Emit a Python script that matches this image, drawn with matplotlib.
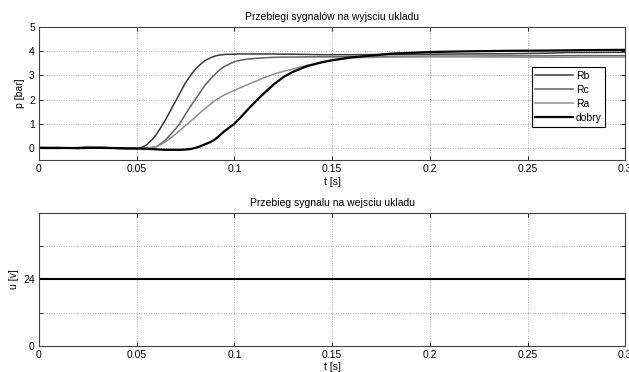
import numpy as np
import matplotlib
matplotlib.use('Agg')
from matplotlib import pyplot as plt

plt.rcParams['font.family'] = ['Liberation Sans', 'DejaVu Sans']
plt.rcParams['font.size'] = 7.5

# czas [s]
t = [0, 0.01, 0.02, 0.025, 0.03, 0.04, 0.045, 0.05, 0.052, 0.055, 0.058, 0.06, 0.062,
     0.065, 0.068, 0.07, 0.072, 0.075, 0.078, 0.08, 0.082, 0.085, 0.088, 0.09,
     0.092, 0.095, 0.1, 0.103, 0.107, 0.11, 0.115, 0.12, 0.125, 0.13, 0.137,
     0.145, 0.15, 0.16, 0.18, 0.2, 0.22, 0.24, 0.26, 0.27, 0.28, 0.3]

# cisnienie [bar]
Rb = [0.02, 0.0, -0.02, 0.01, 0.03, 0.0, -0.02, -0.03, 0.0, 0.12, 0.35, 0.55, 0.8,
      1.2, 1.65, 1.95, 2.25, 2.7, 3.05, 3.25, 3.42, 3.62, 3.74, 3.8,
      3.84, 3.87, 3.88, 3.89, 3.89, 3.89, 3.89, 3.89, 3.88, 3.88, 3.87,
      3.86, 3.86, 3.86, 3.87, 3.88, 3.89, 3.9, 3.92, 3.95, 3.95, 3.96]
Rc = [0.0, 0.01, -0.01, 0.0, 0.02, -0.01, -0.03, -0.03, -0.02, 0.0, 0.02, 0.05, 0.15,
      0.35, 0.62, 0.8, 1.0, 1.4, 1.78, 2.0, 2.25, 2.6, 2.88, 3.04,
      3.2, 3.38, 3.57, 3.63, 3.68, 3.7, 3.73, 3.75, 3.76, 3.76, 3.77,
      3.77, 3.77, 3.78, 3.79, 3.8, 3.8, 3.81, 3.81, 3.82, 3.82, 3.82]
Ra = [-0.02, -0.03, 0.02, 0.06, 0.04, -0.03, -0.06, -0.05, -0.03, -0.01, 0.02, 0.05, 0.12,
      0.27, 0.45, 0.58, 0.72, 0.93, 1.13, 1.28, 1.42, 1.63, 1.83, 1.96,
      2.06, 2.2, 2.38, 2.49, 2.63, 2.73, 2.9, 3.05, 3.17, 3.27, 3.42,
      3.55, 3.62, 3.73, 3.76, 3.77, 3.77, 3.76, 3.75, 3.75, 3.76, 3.76]
dobry = [0.0, 0.0, -0.01, 0.0, 0.0, -0.01, -0.02, -0.02, -0.03, -0.04, -0.05, -0.06, -0.07,
         -0.08, -0.08, -0.08, -0.08, -0.07, -0.04, 0.0, 0.05, 0.15, 0.25, 0.35,
         0.48, 0.7, 1.0, 1.25, 1.6, 1.85, 2.25, 2.62, 2.93, 3.15, 3.38,
         3.55, 3.63, 3.75, 3.9, 3.97, 4.0, 4.02, 4.03, 4.04, 4.05, 4.06]

# napiecie [V]
t_u = [0, 0.3]
u = [24, 24]

fig = plt.figure(figsize=(6.29, 3.72), dpi=100)
ax1 = fig.add_axes([0.062, 0.570, 0.932, 0.357])
ax2 = fig.add_axes([0.062, 0.070, 0.932, 0.358])

ax1.plot(t, Rb, color='#383838', lw=1.1, label='Rb')
ax1.plot(t, Rc, color='#606060', lw=1.1, label='Rc')
ax1.plot(t, Ra, color='#909090', lw=1.1, label='Ra')
ax1.plot(t, dobry, color='k', lw=1.6, label='dobry')
ax1.set_xlim(0, 0.3)
ax1.set_ylim(-0.5, 5)
ax1.set_xticks([0, 0.05, 0.1, 0.15, 0.2, 0.25, 0.3])
ax1.set_xticklabels(['0', '0.05', '0.1', '0.15', '0.2', '0.25', '0.3'])
ax1.set_yticks([0, 1, 2, 3, 4, 5])
ax1.set_title('Przebiegi sygnalów na wyjsciu ukladu', fontsize=7.5, pad=5)
ax1.set_xlabel('t [s]', labelpad=2)
ax1.set_ylabel('p [bar]', labelpad=3)
leg = ax1.legend(loc='upper right', bbox_to_anchor=(0.966, 0.70), fancybox=False,
                 framealpha=1, edgecolor='k', handlelength=3.6, borderpad=0.35,
                 labelspacing=0.4, handletextpad=0.3, borderaxespad=0, fontsize=7.5)
leg.get_frame().set_linewidth(0.8)

ax2.plot(t_u, u, color='k', lw=1.5)
ax2.set_xlim(0, 0.3)
ax2.set_ylim(0, 48)
ax2.set_xticks([0, 0.05, 0.1, 0.15, 0.2, 0.25, 0.3])
ax2.set_xticklabels(['0', '0.05', '0.1', '0.15', '0.2', '0.25', '0.3'])
ax2.set_yticks([0, 12, 24, 36, 48])
ax2.set_yticklabels(['0', '', '24', '', ''])
ax2.set_title('Przebieg sygnalu na wejsciu ukladu', fontsize=7.5, pad=5)
ax2.set_xlabel('t [s]', labelpad=1)
ax2.set_ylabel('u [v]', labelpad=3)

for ax in (ax1, ax2):
    ax.grid(True, linestyle=(0, (1, 2.5)), color='#666666', lw=0.5)
    ax.tick_params(direction='in', length=3, width=0.6, top=True, right=True,
                   pad=3, colors='k')
    for s in ax.spines.values():
        s.set_color('#404040')
        s.set_linewidth(0.8)

fig.savefig('out.png', dpi=100)
